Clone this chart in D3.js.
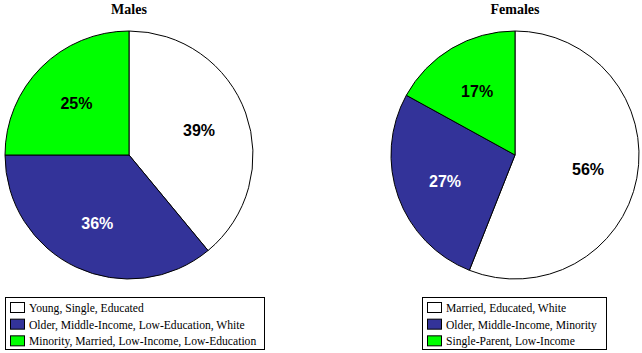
<!DOCTYPE html>
<html>
<head>
<meta charset="utf-8">
<script src="https://cdn.jsdelivr.net/npm/d3@7"></script>
<style>
  body { margin: 0; background: #fff; }
  svg { display: block; }
</style>
</head>
<body>
<svg id="chart" width="642" height="353"></svg>
<script>
// chart data
var maleLabels = ["Young, Single, Educated", "Older, Middle-Income, Low-Education, White", "Minority, Married, Low-Income, Low-Education"];
var maleValues = [39, 36, 25];
var femaleLabels = ["Married, Educated, White", "Older, Middle-Income, Minority", "Single-Parent, Low-Income"];
var femaleValues = [56, 27, 17];
var sliceColours = ["#ffffff", "#333399", "#00ff00"];
var textColours = ["#000000", "#ffffff", "#000000"];

var svg = d3.select("#chart");

function drawPie(opts) {
    var g = svg.append("g").attr("transform", "translate(" + opts.cx + "," + opts.cy + ")");

    var pie = d3.pie().sort(null).value(function(d) { return d; });
    var arc = d3.arc().innerRadius(0).outerRadius(opts.r);
    var labelArc = d3.arc().innerRadius(opts.r * 0.6).outerRadius(opts.r * 0.6);
    var arcs = pie(opts.values);

    g.selectAll("path.slice")
        .data(arcs)
      .enter().append("path").attr("class", "slice")
        .attr("d", arc)
        .attr("fill", function(d, i) { return sliceColours[i]; })
        .attr("stroke", "#000")
        .attr("stroke-width", 1);

    g.selectAll("text.pct")
        .data(arcs)
      .enter().append("text").attr("class", "pct")
        .attr("transform", function(d) { return "translate(" + labelArc.centroid(d) + ")"; })
        .attr("text-anchor", "middle")
        .attr("dy", "0.4em")
        .attr("font-family", "Liberation Sans, Arial, sans-serif")
        .attr("font-weight", "bold")
        .attr("font-size", 16)
        .attr("fill", function(d, i) { return textColours[i]; })
        .text(function(d) { return d.data + "%"; });

    // title
    svg.append("text")
        .attr("x", opts.cx)
        .attr("y", 14)
        .attr("text-anchor", "middle")
        .attr("font-family", "Liberation Serif, Times New Roman, serif")
        .attr("font-weight", "bold")
        .attr("font-size", 14)
        .text(opts.title);

    // legend
    var lg = svg.append("g").attr("transform", "translate(" + opts.lx + "," + opts.ly + ")");
    lg.append("rect")
        .attr("x", 0.5).attr("y", 0.5)
        .attr("width", opts.lw).attr("height", 52)
        .attr("fill", "#fff").attr("stroke", "#000");

    var y = d3.scaleBand().domain(d3.range(opts.labels.length)).range([2, 52]);
    var rows = lg.selectAll("g.row")
        .data(opts.labels)
      .enter().append("g").attr("class", "row")
        .attr("transform", function(d, i) { return "translate(0," + y(i) + ")"; });

    rows.append("rect")
        .attr("x", 5.5).attr("y", 3.5)
        .attr("width", 14).attr("height", 10)
        .attr("fill", function(d, i) { return sliceColours[i]; })
        .attr("stroke", "#000");

    rows.append("text")
        .attr("x", 24).attr("y", 13)
        .attr("font-family", "Liberation Serif, Times New Roman, serif")
        .attr("font-size", 11.6)
        .text(function(d) { return d; });
}

drawPie({ cx: 129, cy: 155, r: 124, values: maleValues, labels: maleLabels, title: "Males", lx: 5, ly: 297, lw: 259 });
drawPie({ cx: 515, cy: 155, r: 124, values: femaleValues, labels: femaleLabels, title: "Females", lx: 422, ly: 297, lw: 184 });
</script>
</body>
</html>
